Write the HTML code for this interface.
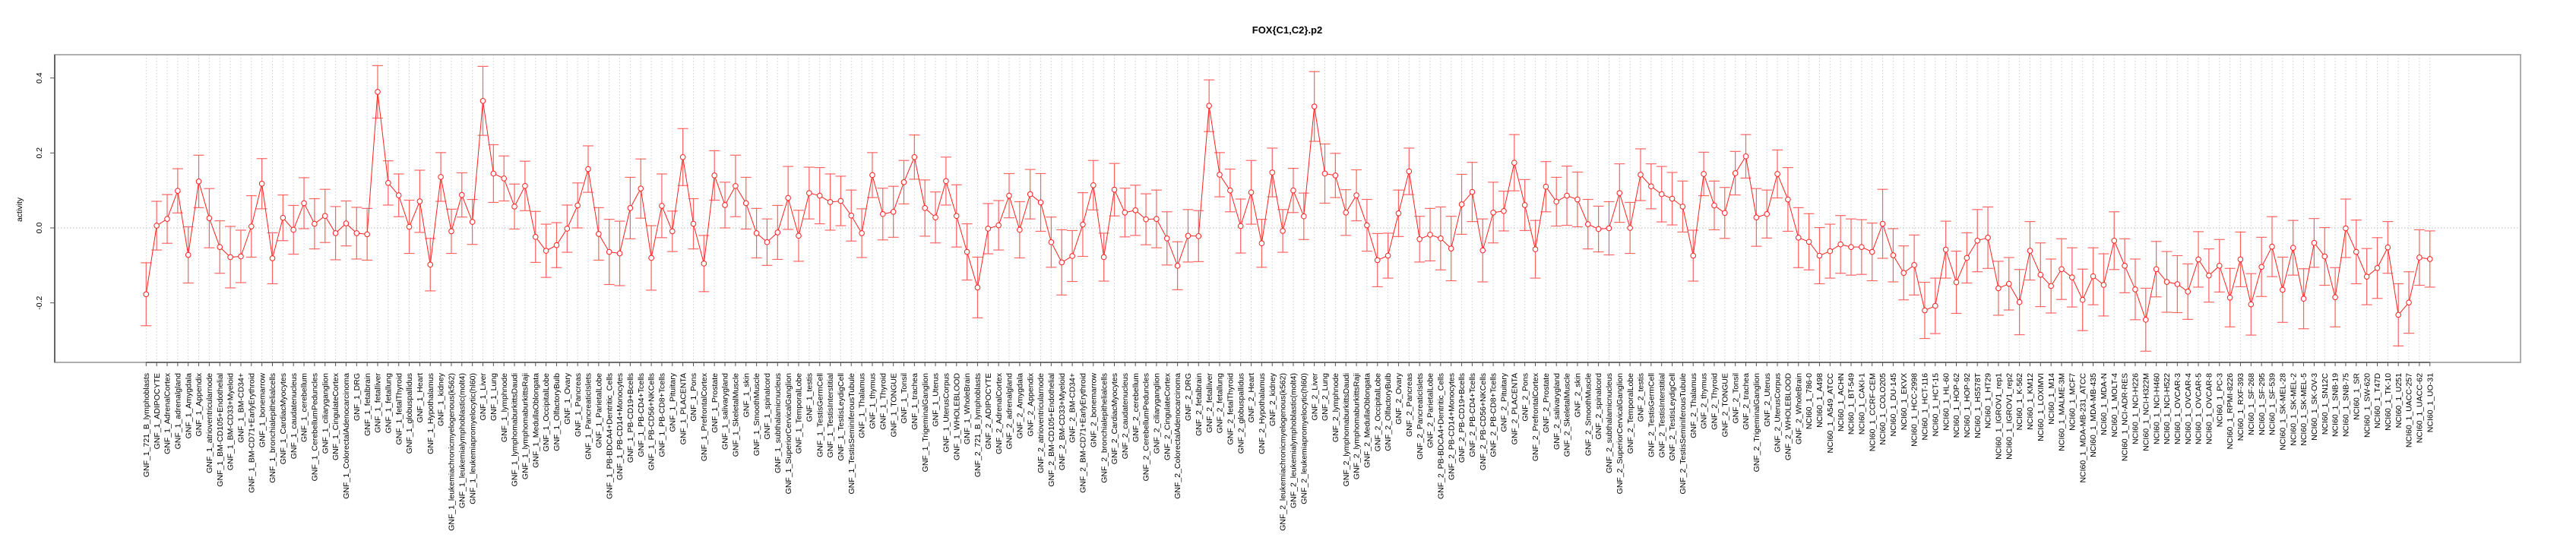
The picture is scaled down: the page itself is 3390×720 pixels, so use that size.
<!DOCTYPE html>
<html><head><meta charset="utf-8"><title>FOX{C1,C2}.p2</title>
<style>html,body{margin:0;padding:0;background:#fff;}svg{display:block;font-family:"Liberation Sans",Arial,sans-serif;}</style>
</head><body>
<svg id="chart" width="3390" height="720" viewBox="0 0 3390 720" xmlns="http://www.w3.org/2000/svg">
<text x="1694" y="44" text-anchor="middle" font-size="13" font-weight="bold">FOX{C1,C2}.p2</text>
<g id="grid"></g>
<g id="axes"></g>
<g id="series"></g>
<g id="xlabels"></g>
</svg>
<script>
const tissues = ["721_B_lymphoblasts","ADIPOCYTE","AdrenalCortex","adrenalgland","Amygdala","Appendix","atrioventricularnode","BM-CD105+Endothelial","BM-CD33+Myeloid","BM-CD34+","BM-CD71+EarlyErythroid","bonemarrow","bronchialepithelialcells","CardiacMyocytes","caudatenucleus","cerebellum","CerebellumPeduncles","ciliaryganglion","CingulateCortex","ColorectalAdenocarcinoma","DRG","fetalbrain","fetalliver","fetallung","fetalThyroid","globuspallidus","Heart","Hypothalamus","kidney","leukemiachronicmyelogenous(k562)","leukemialymphoblastic(molt4)","leukemiapromyelocytic(hl60)","Liver","Lung","lymphnode","lymphomaburkittsDaudi","lymphomaburkittsRaji","MedullaOblongata","OccipitalLobe","OlfactoryBulb","Ovary","Pancreas","PancreaticIslets","ParietalLobe","PB-BDCA4+Dentritic_Cells","PB-CD14+Monocytes","PB-CD19+Bcells","PB-CD4+Tcells","PB-CD56+NKCells","PB-CD8+Tcells","Pituitary","PLACENTA","Pons","PrefrontalCortex","Prostate","salivarygland","SkeletalMuscle","skin","SmoothMuscle","spinalcord","subthalamicnucleus","SuperiorCervicalGanglion","TemporalLobe","testis","TestisGermCell","TestisInterstitial","TestisLeydigCell","TestisSeminiferousTubule","Thalamus","thymus","Thyroid","TONGUE","Tonsil","trachea","TrigeminalGanglion","Uterus","UterusCorpus","WHOLEBLOOD","WholeBrain"];
const cellLines = ["786-0","A498","A549_ATCC","ACHN","BT-549","CAKI-1","CCRF-CEM","COLO205","DU-145","EKVX","HCC-2998","HCT-116","HCT-15","HL-60","HOP-62","HOP-92","HS578T","HT29","IGROV1_rep1","IGROV1_rep2","K-562","KM12","LOXIMVI","M14","MALME-3M","MCF7","MDA-MB-231_ATCC","MDA-MB-435","MDA-N","MOLT-4","NCI-ADR-RES","NCI-H226","NCI-H322M","NCI-H460","NCI-H522","OVCAR-3","OVCAR-4","OVCAR-5","OVCAR-8","PC-3","RPMI-8226","RXF-393","SF-268","SF-295","SF-539","SK-MEL-28","SK-MEL-2","SK-MEL-5","SK-OV-3","SN12C","SNB-19","SNB-75","SR","SW-620","T47D","TK-10","U251","UACC-257","UACC-62","UO-31"];
const categories = tissues.map(t=>"GNF_1_"+t).concat(tissues.map(t=>"GNF_2_"+t)).concat(cellLines.map(t=>"NCI60_1_"+t));
const activity = [-0.177,0.006,0.024,0.099,-0.072,0.124,0.026,-0.051,-0.078,-0.076,0.004,0.118,-0.081,0.027,-0.005,0.066,0.011,0.032,-0.014,0.012,-0.014,-0.017,0.363,0.120,0.087,0.003,0.071,-0.098,0.136,-0.009,0.088,0.016,0.339,0.145,0.132,0.057,0.112,-0.024,-0.061,-0.046,-0.002,0.060,0.157,-0.016,-0.064,-0.068,0.053,0.105,-0.080,0.059,-0.009,0.189,0.011,-0.095,0.140,0.061,0.112,
0.066,-0.014,-0.038,-0.012,0.080,-0.021,0.093,0.086,0.069,0.072,0.033,-0.014,0.141,0.037,0.043,0.122,0.189,0.053,0.028,0.125,0.032,-0.064,-0.159,-0.002,0.007,0.086,-0.005,0.090,0.068,-0.038,-0.092,-0.075,0.009,0.114,-0.078,0.102,0.041,0.047,0.023,0.024,-0.028,-0.101,-0.021,-0.022,0.326,0.142,0.100,0.005,0.095,-0.041,0.148,-0.008,0.100,0.031,0.324,0.145,0.140,
0.041,0.087,0.007,-0.086,-0.074,0.039,0.151,-0.030,-0.018,-0.028,-0.055,0.063,0.096,-0.060,0.041,0.045,0.174,0.061,-0.057,0.110,0.070,0.086,0.076,0.010,-0.003,-0.001,0.093,0.000,0.142,0.111,0.090,0.078,0.057,-0.074,0.144,0.060,0.040,0.146,0.191,0.028,0.037,0.144,0.076,-0.026,-0.037,-0.074,-0.062,-0.044,-0.051,-0.051,-0.064,0.011,-0.073,-0.120,-0.099,-0.220,-0.208,
-0.058,-0.145,-0.080,-0.034,-0.026,-0.161,-0.149,-0.198,-0.061,-0.125,-0.155,-0.110,-0.132,-0.192,-0.129,-0.152,-0.034,-0.101,-0.164,-0.245,-0.110,-0.144,-0.150,-0.170,-0.084,-0.127,-0.101,-0.186,-0.084,-0.204,-0.104,-0.050,-0.165,-0.053,-0.189,-0.040,-0.076,-0.185,-0.001,-0.064,-0.130,-0.107,-0.052,-0.232,-0.199,-0.079,-0.083];
const errors = [.084,.065,.065,.059,.075,.07,.079,.07,.082,.07,.082,.067,.068,.061,.065,.068,.067,.071,.071,.06,.069,.069,.07,.059,.057,.071,.083,.07,.065,.059,.059,.06,.092,.077,.06,.06,.066,.068,.071,.06,.063,.06,.062,.07,.087,.086,.082,.079,.086,.085,.054,.076,.067,.075,.066,.061,.082,
.069,.066,.062,.072,.084,.068,.069,.075,.075,.066,.068,.065,.06,.069,.068,.058,.059,.075,.068,.064,.083,.075,.081,.067,.066,.059,.075,.066,.077,.067,.087,.068,.085,.066,.064,.07,.065,.067,.068,.077,.071,.064,.07,.068,.069,.059,.057,.072,.085,.064,.065,.057,.059,.062,.093,.079,.059,
.061,.068,.069,.071,.06,.062,.062,.061,.07,.084,.086,.08,.079,.084,.081,.053,.075,.068,.077,.067,.065,.079,.073,.066,.061,.071,.078,.068,.069,.06,.074,.07,.068,.068,.058,.065,.068,.058,.058,.077,.064,.064,.085,.08,.075,.075,.072,.077,.075,.073,.077,.092,.071,.072,.08,.075,.074,
.076,.083,.067,.083,.082,.072,.07,.087,.078,.085,.072,.081,.079,.082,.076,.083,.077,.072,.081,.084,.074,.081,.076,.074,.074,.071,.07,.078,.073,.082,.079,.08,.087,.073,.08,.065,.077,.079,.078,.085,.075,.081,.069,.083,.082,.074,.075];
const yTicks = [-0.2, 0.0, 0.2, 0.4];
const yTickLabels = ["-0.2","0.0","0.2","0.4"];

const NS = "http://www.w3.org/2000/svg";
const PL = 72, PR = 3317, PT = 72, PB = 477;
const X0 = 192.3, DX = 13.85;
function xScale(i){ return X0 + i*DX; }
function yScale(v){ return 300 - v*493.3; }
function mk(tag, attrs, parent){ const e=document.createElementNS(NS,tag); for(const k in attrs) e.setAttribute(k,attrs[k]); parent.appendChild(e); return e; }
const grid=document.getElementById('grid'), axes=document.getElementById('axes'), series=document.getElementById('series'), xl=document.getElementById('xlabels');
const n = activity.length;

for(let i=0;i<n;i++){
  const g = mk('line',{x1:xScale(i),x2:xScale(i),y1:PT,y2:PB,stroke:'#cfcfcf','stroke-width':1,'stroke-dasharray':'1.5,2.5'},grid);
  
  
}
const zl = mk('line',{x1:PL,x2:PR,y1:yScale(0),y2:yScale(0),stroke:'#bbbbbb','stroke-width':1,'stroke-dasharray':'1.5,2.5'},grid);



const box = mk('rect',{x:PL,y:PT,width:PR-PL,height:PB-PT,fill:'none',stroke:'#9a9a9a','stroke-width':1.6},axes);


const ya = mk('line',{x1:PL,x2:PL,y1:PT,y2:PB,stroke:'#666','stroke-width':2},axes);


const xa = mk('line',{x1:xScale(0),x2:xScale(n-1),y1:PB,y2:PB,stroke:'#555','stroke-width':1.6},axes);


yTicks.forEach((t,k)=>{
  const y=yScale(t);
  const tk = mk('line',{x1:PL-6,x2:PL,y1:y,y2:y,stroke:'#555','stroke-width':1},axes);
  
  
  const tx = mk('text',{x:55,y:y,'font-size':10.5,'text-anchor':'middle',transform:`rotate(-90 55 ${y})`},axes);
  tx.textContent = yTickLabels[k];
  
  
});
const yt = mk('text',{x:29,y:276,'font-size':10.5,'text-anchor':'middle',transform:'rotate(-90 29 276)'},axes);
yt.textContent = 'activity';



for(let i=0;i<n;i++){
  const x=xScale(i);
  const tk = mk('line',{x1:x,x2:x,y1:PB,y2:PB+5,stroke:'#555','stroke-width':1},axes);
  
  
  const lb = mk('text',{x:x+3.6,y:491,'font-size':10.5,'text-anchor':'end',transform:`rotate(-90 ${x+3.6} 491)`},xl);
  lb.textContent = categories[i] || '';
  
  
}

const pts = activity.map((v,i)=>xScale(i)+','+yScale(v)).join(' ');
const pl = mk('polyline',{points:pts,fill:'none',stroke:'#ff2020','stroke-width':1},series);


for(let i=0;i<n;i++){
  const x=xScale(i), v=activity[i], e=(errors[i]!==undefined?errors[i]:0.07);
  const yt2=yScale(v+e), yb=yScale(v-e);
  const eb = mk('g',{stroke:'#ff4040','stroke-width':1.2,opacity:0.8},series);
  
  
  mk('line',{x1:x,x2:x,y1:yt2,y2:yb},eb);
  mk('line',{x1:x-7,x2:x+7,y1:yt2,y2:yt2},eb);
  mk('line',{x1:x-7,x2:x+7,y1:yb,y2:yb},eb);
  const c = mk('circle',{cx:x,cy:yScale(v),r:3.3,fill:'#fff',stroke:'#ff2020','stroke-width':1},series);
  
  
}
</script>
</body></html>
